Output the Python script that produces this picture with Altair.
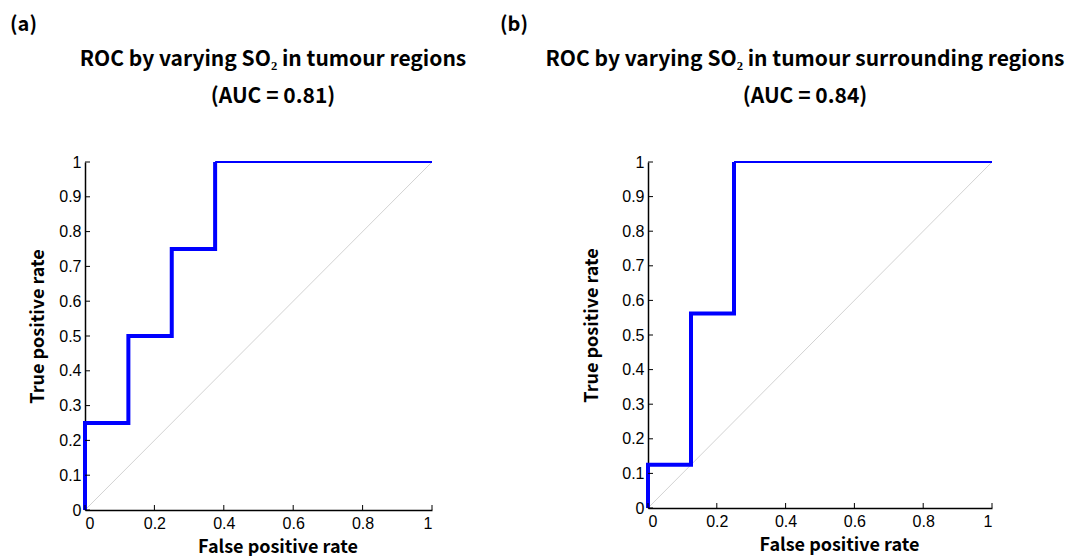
import altair as alt
import pandas as pd

# ROC step curves (thick part) and their final thin segment
fpr_a = [0.0, 0.0, 0.125, 0.125, 0.25, 0.25, 0.375, 0.375]
tpr_a = [0.0, 0.25, 0.25, 0.5, 0.5, 0.75, 0.75, 1.0]
tail_fpr_a = [0.375, 1.0]
tail_tpr_a = [1.0, 1.0]

fpr_b = [0.0, 0.0, 0.125, 0.125, 0.25, 0.25]
tpr_b = [0.0, 0.125, 0.125, 0.5625, 0.5625, 1.0]
tail_fpr_b = [0.25, 1.0]
tail_tpr_b = [1.0, 1.0]

diag_x = [0.0, 1.0]
diag_y = [0.0, 1.0]

x_ticks = [0.0, 0.2, 0.4, 0.6, 0.8, 1.0]
y_ticks = [0.0, 0.1, 0.2, 0.3, 0.4, 0.5, 0.6, 0.7, 0.8, 0.9, 1.0]

titles_a = ["ROC by varying SO\u2082 in tumour regions", "(AUC = 0.81)"]
titles_b = ["ROC by varying SO\u2082 in tumour surrounding regions", "(AUC = 0.84)"]

BLUE = "#0000ff"
TITLE_FONT = "Noto Sans CJK SC"
TICK_FONT = "Liberation Sans"


def panel(fpr, tpr, tail_x, tail_y, titles, label, w, h, tcx, label_x, ytitle_pad):
    xs = alt.Scale(domain=[0, 1], nice=False, zero=False)
    ys = alt.Scale(domain=[0, 1], nice=False, zero=False)
    X = alt.X("x:Q", scale=xs, axis=alt.Axis(
        title="False positive rate", values=x_ticks, format="~g", ticks=False, grid=False,
        domainColor="black", domainWidth=1.5, labelFont=TICK_FONT, labelFontSize=16,
        labelColor="black", labelPadding=5, titleFont=TITLE_FONT, titleFontSize=18,
        titleFontWeight="bold", titleColor="black", titlePadding=7, titleX=w / 2 + 19))
    Y = alt.Y("y:Q", scale=ys, axis=alt.Axis(
        title="True positive rate", values=y_ticks, format="~g", ticks=False, grid=False,
        domainColor="black", domainWidth=1.5, labelFont=TICK_FONT, labelFontSize=16,
        labelColor="black", labelPadding=4, titleFont=TITLE_FONT, titleFontSize=18,
        titleFontWeight="bold", titleColor="black", titlePadding=ytitle_pad,
        titleY=h / 2 - 10))

    diag = alt.Chart(pd.DataFrame({"x": diag_x, "y": diag_y})).mark_line(
        color="#d2d2d2", strokeWidth=1).encode(x=X, y=Y)

    df = pd.DataFrame({"x": fpr, "y": tpr, "i": list(range(len(fpr)))})
    thick = alt.Chart(df).mark_line(color=BLUE, strokeWidth=4, strokeJoin="miter",
                                    strokeCap="butt").encode(x=X, y=Y, order="i:Q")
    tail = alt.Chart(pd.DataFrame({"x": tail_x, "y": tail_y})).mark_line(
        color=BLUE, strokeWidth=2).encode(x=X, y=Y)

    ytk = alt.Chart(pd.DataFrame({"y": y_ticks})).mark_rule(
        color="black", strokeWidth=1).encode(y=Y, x=alt.value(0), x2=alt.value(5))
    xtk = alt.Chart(pd.DataFrame({"x": x_ticks})).mark_rule(
        color="black", strokeWidth=1).encode(x=X, y=alt.value(h), y2=alt.value(h - 5))

    lab = alt.Chart(pd.DataFrame({"t": [label]})).mark_text(
        align="left", baseline="middle", font=TITLE_FONT, fontSize=20,
        fontWeight="bold", color="black").encode(
        text="t:N", x=alt.value(label_x), y=alt.value(-137))

    t1 = alt.Chart(pd.DataFrame({"t": [titles[0]]})).mark_text(
        align="center", baseline="alphabetic", font=TITLE_FONT, fontSize=21,
        fontWeight="bold", color="black").encode(
        text="t:N", x=alt.value(tcx), y=alt.value(-96))
    t2 = alt.Chart(pd.DataFrame({"t": [titles[1]]})).mark_text(
        align="center", baseline="alphabetic", font=TITLE_FONT, fontSize=21,
        fontWeight="bold", color="black").encode(
        text="t:N", x=alt.value(tcx), y=alt.value(-59))

    return alt.layer(diag, thick, tail, ytk, xtk, lab, t1, t2).properties(
        width=w, height=h)


a = panel(fpr_a, tpr_a, tail_fpr_a, tail_tpr_a, titles_a, "(a)", 347, 348, 188, -75, 11)
b = panel(fpr_b, tpr_b, tail_fpr_b, tail_tpr_b, titles_b, "(b)", 344, 346, 157, -148, 20)

chart = alt.hconcat(a, b, spacing=216, bounds="flush").configure_view(
    stroke=None).properties(padding={"left": 2, "top": 7, "right": 5, "bottom": 0})

chart.save("out.html", embed_options={"renderer": "svg", "actions": False})
